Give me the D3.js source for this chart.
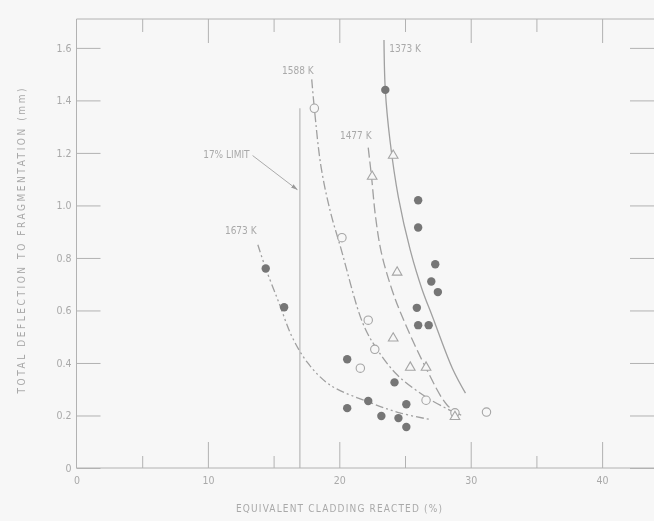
<!DOCTYPE html>
<html>
<head>
<meta charset="utf-8">
<script src="https://cdn.jsdelivr.net/npm/d3@7"></script>
<style>
  html, body { margin: 0; padding: 0; background: #f7f7f7; }
  svg { display: block; }
  text { font-family: "Liberation Sans Narrow", "DejaVu Sans Condensed", "Liberation Sans", sans-serif; fill: #a9a9a9; }
</style>
</head>
<body>
<svg id="chart" width="654" height="521"></svg>
<script>
// Isothermal fragmentation curves: cladding reacted (%) vs. total deflection (mm)
const curve1373 = [[23.4, 1.63], [23.5, 1.44], [23.85, 1.25], [24.5, 1.03], [25.4, 0.83], [26.3, 0.68], [27.1, 0.575], [28.6, 0.38], [29.6, 0.285]];
const curve1477 = [[22.2, 1.22], [22.45, 1.11], [22.75, 0.96], [23.2, 0.82], [24.0, 0.68], [24.8, 0.575], [26.6, 0.38], [28.2, 0.24], [29.3, 0.20]];
const curve1588 = [[17.9, 1.48], [18.1, 1.37], [18.6, 1.15], [19.3, 0.98], [20.1, 0.84], [21.8, 0.55], [22.9, 0.45], [24.4, 0.355], [26.7, 0.267], [28.7, 0.213]];
const curve1673 = [[13.8, 0.85], [14.4, 0.76], [15.4, 0.63], [16.4, 0.50], [17.6, 0.40], [19.3, 0.316], [22.3, 0.25], [24.6, 0.21], [26.9, 0.185]];

const curveNames = ["1373 K", "1477 K", "1588 K", "1673 K"];
const curveLabelPos = [[23.8, 1.60], [21.25, 1.27], [16.85, 1.515], [12.5, 0.905]];

// Test specimens
const filledPts = [[23.5, 1.44], [26.0, 1.02], [26.0, 0.916], [27.3, 0.776], [27.0, 0.71], [27.5, 0.67],
  [25.9, 0.61], [26.0, 0.544], [26.8, 0.544], [20.6, 0.414], [24.2, 0.326], [22.2, 0.255], [25.1, 0.243],
  [20.6, 0.228], [23.2, 0.198], [24.5, 0.19], [25.1, 0.156], [14.4, 0.76], [15.8, 0.612]];
const openCirclePts = [[18.1, 1.37], [20.2, 0.877], [22.2, 0.563], [22.7, 0.452], [21.6, 0.38], [26.6, 0.258], [28.8, 0.21], [31.2, 0.213]];
const trianglePts = [[24.1, 1.19], [22.5, 1.11], [24.4, 0.745], [24.1, 0.494], [25.4, 0.383], [26.6, 0.383], [28.8, 0.195]];

// Embrittlement criterion
const limitX = 17;
const limitTop = 1.37;
const limitLabel = "17% LIMIT";
const limitLabelPos = [13.4, 1.19];
const limitArrowEnd = [16.8, 1.06];

const xTicks = [5, 10, 15, 20, 25, 30, 35, 40];
const yTicks = [0, 0.2, 0.4, 0.6, 0.8, 1.0, 1.2, 1.4, 1.6];
const xTitle = "EQUIVALENT CLADDING REACTED (%)";
const yTitle = "TOTAL DEFLECTION TO FRAGMENTATION (mm)";

const svg = d3.select("#chart");
const defs = svg.append("defs");
defs.append("filter").attr("id", "soft")
  .append("feGaussianBlur").attr("stdDeviation", 0.55);
defs.append("marker").attr("id", "arrow").attr("viewBox", "0 0 10 10")
  .attr("refX", 9).attr("refY", 5).attr("markerWidth", 7).attr("markerHeight", 7)
  .attr("orient", "auto")
  .append("path").attr("d", "M0,2 L10,5 L0,8 Z").attr("fill", "#999");

const x = d3.scaleLinear().domain([0, 44.1]).range([76.5, 656]);
const y = d3.scaleLinear().domain([0, 1.71]).range([468, 19]);

const g = svg.append("g").attr("filter", "url(#soft)");
const lineCol = "#b2b2b2";

// frame
g.append("path")
  .attr("d", `M${x(0)},${y(0)} V${y(1.71)} H${x(44.1)} V${y(0)} Z`)
  .attr("fill", "none").attr("stroke", lineCol).attr("stroke-width", 1);

// left axis
const ax = g.append("g").attr("transform", `translate(${x(0)},0)`)
  .call(d3.axisLeft(y).tickValues(yTicks).tickSize(-24).tickPadding(5)
    .tickFormat(d => d === 0 ? "0" : d3.format(".1f")(d)));
// right axis ticks
const axR = g.append("g").attr("transform", `translate(${x(44.1)},0)`)
  .call(d3.axisRight(y).tickValues(yTicks).tickSize(-26).tickFormat(""));
// bottom axis
const axB = g.append("g").attr("transform", `translate(0,${y(0)})`)
  .call(d3.axisBottom(x).tickValues(xTicks.concat([0])).tickSize(-26).tickPadding(9)
    .tickFormat(d => d % 10 === 0 ? d : ""));
axB.selectAll(".tick line").attr("y2", d => d === 0 ? 0 : (d % 10 === 0 ? -26 : -12));
// top axis
const axT = g.append("g").attr("transform", `translate(0,${y(1.71)})`)
  .call(d3.axisTop(x).tickValues(xTicks).tickSize(-24).tickFormat(""));
axT.selectAll(".tick line").attr("y2", d => d % 10 === 0 ? 24 : 13);

[ax, axR, axB, axT].forEach(a => {
  a.select(".domain").remove();
  a.selectAll(".tick line").attr("stroke", lineCol);
  a.selectAll(".tick text").attr("fill", "#a9a9a9").style("font-size", "10.5px");
});

// titles
g.append("text").attr("transform", "translate(25,241) rotate(-90)")
  .attr("text-anchor", "middle").attr("textLength", 305).attr("lengthAdjust", "spacing")
  .style("font-size", "10px").text(yTitle);
g.append("text").attr("x", 339).attr("y", 512)
  .attr("text-anchor", "middle").attr("textLength", 206).attr("lengthAdjust", "spacing")
  .style("font-size", "10px").text(xTitle);

// 17% limit line and callout
g.append("line").attr("x1", x(limitX)).attr("x2", x(limitX))
  .attr("y1", y(limitTop)).attr("y2", y(0)).attr("stroke", lineCol).attr("stroke-width", 1.1);
g.append("text").attr("x", x(limitLabelPos[0]) - 3).attr("y", y(limitLabelPos[1]) + 2)
  .attr("text-anchor", "end").style("font-size", "10px").text(limitLabel);
g.append("line").attr("x1", x(limitLabelPos[0])).attr("y1", y(limitLabelPos[1]))
  .attr("x2", x(limitArrowEnd[0])).attr("y2", y(limitArrowEnd[1]))
  .attr("stroke", "#aaa").attr("stroke-width", 1).attr("marker-end", "url(#arrow)");

// isotherm curves
const line = d3.line().x(d => x(d[0])).y(d => y(d[1])).curve(d3.curveCatmullRom.alpha(0.5));
const curves = [curve1373, curve1477, curve1588, curve1673];
const dashes = [null, "10,4", "9,3,2,3", "8,3,2,3,2,3"];
curves.forEach((c, i) => {
  g.append("path").attr("d", line(c)).attr("fill", "none")
    .attr("stroke", "#a0a0a0").attr("stroke-width", 1.3)
    .attr("stroke-dasharray", dashes[i]);
  g.append("text").attr("x", x(curveLabelPos[i][0])).attr("y", y(curveLabelPos[i][1]) + 4)
    .attr("text-anchor", i === 0 ? "start" : "middle")
    .style("font-size", "10px").text(curveNames[i]);
});

// specimens
g.selectAll("circle.filled").data(filledPts).join("circle").attr("class", "filled")
  .attr("cx", d => x(d[0])).attr("cy", d => y(d[1])).attr("r", 4.2).attr("fill", "#767676");
g.selectAll("circle.open").data(openCirclePts).join("circle").attr("class", "open")
  .attr("cx", d => x(d[0])).attr("cy", d => y(d[1])).attr("r", 4.2)
  .attr("fill", "#f7f7f7").attr("stroke", "#a5a5a5").attr("stroke-width", 1.1);
const tri = d3.symbol().type(d3.symbolTriangle).size(40);
g.selectAll("path.tri").data(trianglePts).join("path").attr("class", "tri")
  .attr("transform", d => `translate(${x(d[0])},${y(d[1])})`).attr("d", tri())
  .attr("fill", "#f7f7f7").attr("stroke", "#a5a5a5").attr("stroke-width", 1.1);
</script>
</body>
</html>
